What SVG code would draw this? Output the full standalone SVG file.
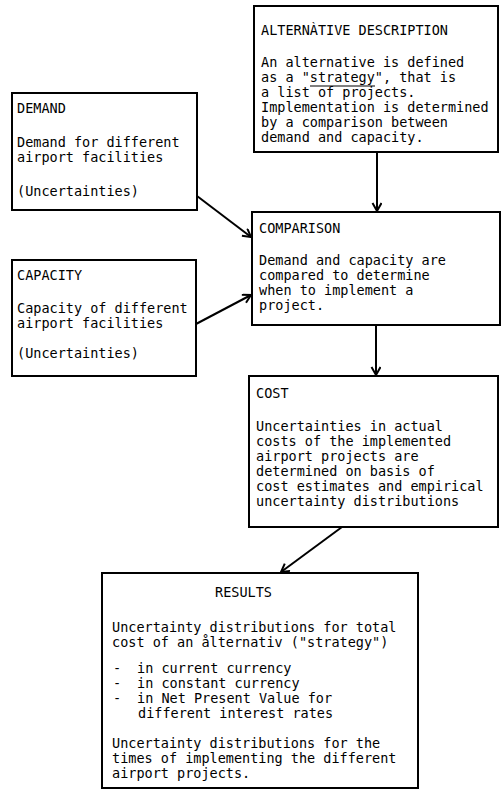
<svg xmlns="http://www.w3.org/2000/svg" width="502" height="789" viewBox="0 0 502 789">
<style>
  .box{fill:#fff;stroke:#000;stroke-width:2}
  .t{font-family:"DejaVu Sans Mono","Liberation Mono",monospace;font-size:13.5px;fill:#000}
  .c{stroke:#000;stroke-width:2;fill:none}
</style>
<defs>
  <marker id="ah" markerUnits="userSpaceOnUse" markerWidth="12" markerHeight="12" refX="9" refY="5" orient="auto">
    <path d="M1,0.5 L9,5 L1,9.5" fill="none" stroke="#000" stroke-width="2"/>
  </marker>
</defs>
<rect width="502" height="789" fill="#fff"/>

<g id="alternative">
  <rect class="box" x="254" y="6" width="244" height="146"/>
  <text class="t" x="261" y="35">ALTERNÀTIVE DESCRIPTION</text>
  <text class="t" x="261" y="67">An alternative is defined</text>
  <text class="t" x="261" y="82">as a "strategy", that is</text>
  <line x1="310" y1="86" x2="375" y2="86" stroke="#000" stroke-width="1.2"/>
  <text class="t" x="261" y="97">a list of projects.</text>
  <text class="t" x="261" y="112">Implementation is determined</text>
  <text class="t" x="261" y="127">by a comparison between</text>
  <text class="t" x="261" y="142">demand and capacity.</text>
</g>

<g id="demand">
  <rect class="box" x="12" y="93" width="185" height="117"/>
  <text class="t" x="17" y="113">DEMAND</text>
  <text class="t" x="17" y="147">Demand for different</text>
  <text class="t" x="17" y="162">airport facilities</text>
  <text class="t" x="17" y="196">(Uncertainties)</text>
</g>

<g id="capacity">
  <rect class="box" x="12" y="260" width="184" height="116"/>
  <text class="t" x="17" y="280">CAPACITY</text>
  <text class="t" x="17" y="313">Capacity of different</text>
  <text class="t" x="17" y="328">airport facilities</text>
  <text class="t" x="17" y="358">(Uncertainties)</text>
</g>

<g id="comparison">
  <rect class="box" x="252" y="212" width="248" height="113"/>
  <text class="t" x="259" y="233">COMPARISON</text>
  <text class="t" x="259" y="265">Demand and capacity are</text>
  <text class="t" x="259" y="280">compared to determine</text>
  <text class="t" x="259" y="295">when to implement a</text>
  <text class="t" x="259" y="310">project.</text>
</g>

<g id="cost">
  <rect class="box" x="249" y="376" width="249" height="151"/>
  <text class="t" x="256" y="398">COST</text>
  <text class="t" x="256" y="431">Uncertainties in actual</text>
  <text class="t" x="256" y="446">costs of the implemented</text>
  <text class="t" x="256" y="461">airport projects are</text>
  <text class="t" x="256" y="476">determined on basis of</text>
  <text class="t" x="256" y="491">cost estimates and empirical</text>
  <text class="t" x="256" y="506">uncertainty distributions</text>
</g>

<g id="results">
  <rect class="box" x="102" y="573" width="316" height="215"/>
  <text class="t" x="215" y="597">RESULTS</text>
  <text class="t" x="112" y="632">Uncertainty distributions for total</text>
  <text class="t" x="112" y="647">cost of an ålternativ ("strategy")</text>
  <text class="t" x="113" y="673">-</text>
  <text class="t" x="137" y="673">in current currency</text>
  <text class="t" x="113" y="688">-</text>
  <text class="t" x="137" y="688">in constant currency</text>
  <text class="t" x="113" y="703">-</text>
  <text class="t" x="137" y="703">in Net Present Value for</text>
  <text class="t" x="138" y="718">different interest rates</text>
  <text class="t" x="112" y="748">Uncertainty distributions for the</text>
  <text class="t" x="112" y="763">times of implementing the different</text>
  <text class="t" x="112" y="778">airport projects.</text>
</g>

<g id="connectors">
  <line class="c" x1="377" y1="152" x2="377" y2="211" marker-end="url(#ah)"/>
  <line class="c" x1="197" y1="196" x2="251" y2="237" marker-end="url(#ah)"/>
  <line class="c" x1="196" y1="324" x2="251" y2="295" marker-end="url(#ah)"/>
  <line class="c" x1="376" y1="325" x2="376" y2="375" marker-end="url(#ah)"/>
  <line class="c" x1="342" y1="527" x2="281" y2="572" marker-end="url(#ah)"/>
</g>
</svg>
